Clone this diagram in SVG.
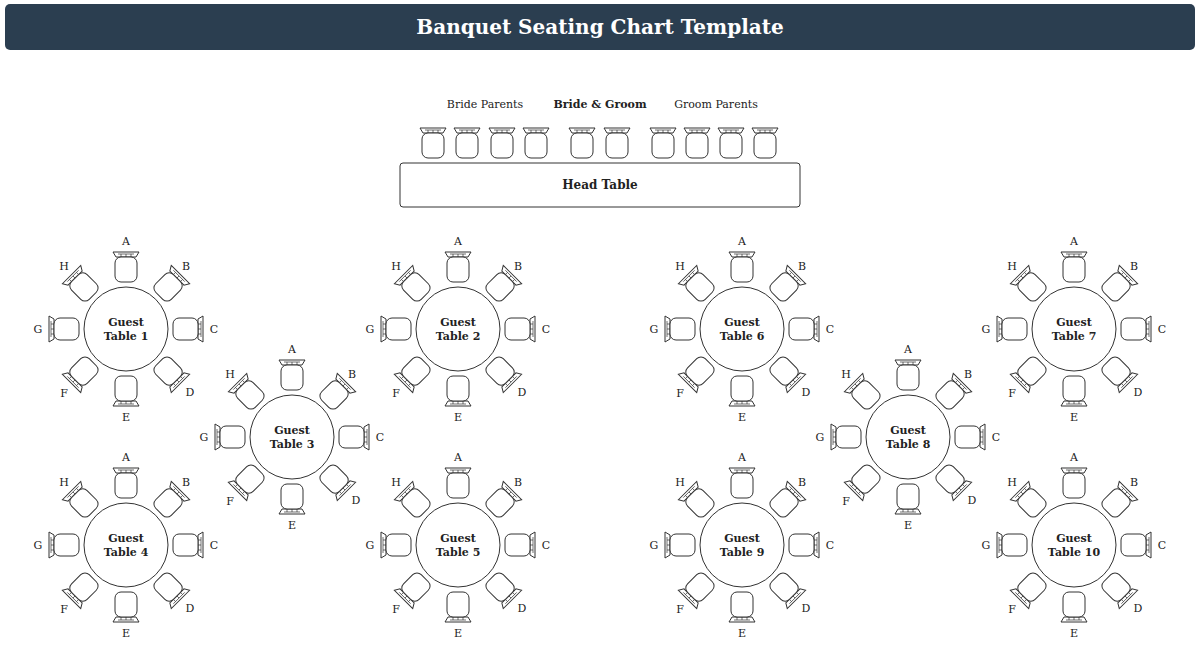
<svg xmlns="http://www.w3.org/2000/svg" xmlns:xlink="http://www.w3.org/1999/xlink" width="1200" height="647" viewBox="0 0 1200 647">
<style>
.ln{fill:#fff;stroke:#333;stroke-width:1}
.t{font-family:"DejaVu Serif","Liberation Serif",serif;fill:#222;text-anchor:middle}
.lb{font-size:11px}
.tn{font-size:11px;font-weight:bold}
</style>
<defs>
<g id="chair">
<path class="ln" d="M-13,-17 L13,-17 L10,-12 L-10,-12 Z"/>
<path d="M-8,-15 L8,-15 M-5,-15 V-12 M0,-15 V-12 M5,-15 V-12" stroke="#333" stroke-width="0.7" fill="none"/>
<rect class="ln" x="-11" y="-12" width="22" height="25" rx="6"/>
</g>
<g id="tbl">
<circle class="ln" r="42"/>
<use xlink:href="#chair" transform="translate(0,-60)"/>
<use xlink:href="#chair" transform="rotate(45) translate(0,-60)"/>
<use xlink:href="#chair" transform="rotate(90) translate(0,-60)"/>
<use xlink:href="#chair" transform="rotate(135) translate(0,-60)"/>
<use xlink:href="#chair" transform="rotate(180) translate(0,-60)"/>
<use xlink:href="#chair" transform="rotate(225) translate(0,-60)"/>
<use xlink:href="#chair" transform="rotate(270) translate(0,-60)"/>
<use xlink:href="#chair" transform="rotate(315) translate(0,-60)"/>
<g class="t lb">
<text x="0" y="-84">A</text><text x="60" y="-59">B</text><text x="88" y="4">C</text><text x="64" y="67">D</text>
<text x="0" y="92">E</text><text x="-62" y="68">F</text><text x="-88" y="4">G</text><text x="-62" y="-59">H</text>
</g>
</g>
</defs>
<rect width="1200" height="647" fill="#fff"/>
<g id="title"><rect x="5" y="4" width="1190" height="46" rx="5" fill="#2b3e50"/>
<text x="600" y="34" font-family="DejaVu Serif,Liberation Serif,serif" font-size="20" font-weight="bold" fill="#fff" text-anchor="middle">Banquet Seating Chart Template</text></g>
<g id="head-table">
<g class="t lb"><text x="485" y="108">Bride Parents</text><text x="600" y="108" font-weight="bold">Bride &amp; Groom</text><text x="716" y="108">Groom Parents</text></g>
<use xlink:href="#chair" x="433" y="145"/><use xlink:href="#chair" x="467" y="145"/><use xlink:href="#chair" x="502" y="145"/><use xlink:href="#chair" x="536" y="145"/>
<use xlink:href="#chair" x="582" y="145"/><use xlink:href="#chair" x="617" y="145"/>
<use xlink:href="#chair" x="663" y="145"/><use xlink:href="#chair" x="697" y="145"/><use xlink:href="#chair" x="731" y="145"/><use xlink:href="#chair" x="765" y="145"/>
<rect class="ln" x="400" y="163" width="400" height="44" rx="3"/>
<text class="t" x="600" y="189" font-size="12" font-weight="bold">Head Table</text>
</g>
<g id="table1" transform="translate(126,329)"><use xlink:href="#tbl"/><text class="t tn" y="-3">Guest</text><text class="t tn" y="11">Table 1</text></g>
<g id="table2" transform="translate(458,329)"><use xlink:href="#tbl"/><text class="t tn" y="-3">Guest</text><text class="t tn" y="11">Table 2</text></g>
<g id="table3" transform="translate(292,437)"><use xlink:href="#tbl"/><text class="t tn" y="-3">Guest</text><text class="t tn" y="11">Table 3</text></g>
<g id="table4" transform="translate(126,545)"><use xlink:href="#tbl"/><text class="t tn" y="-3">Guest</text><text class="t tn" y="11">Table 4</text></g>
<g id="table5" transform="translate(458,545)"><use xlink:href="#tbl"/><text class="t tn" y="-3">Guest</text><text class="t tn" y="11">Table 5</text></g>
<g id="table6" transform="translate(742,329)"><use xlink:href="#tbl"/><text class="t tn" y="-3">Guest</text><text class="t tn" y="11">Table 6</text></g>
<g id="table7" transform="translate(1074,329)"><use xlink:href="#tbl"/><text class="t tn" y="-3">Guest</text><text class="t tn" y="11">Table 7</text></g>
<g id="table8" transform="translate(908,437)"><use xlink:href="#tbl"/><text class="t tn" y="-3">Guest</text><text class="t tn" y="11">Table 8</text></g>
<g id="table9" transform="translate(742,545)"><use xlink:href="#tbl"/><text class="t tn" y="-3">Guest</text><text class="t tn" y="11">Table 9</text></g>
<g id="table10" transform="translate(1074,545)"><use xlink:href="#tbl"/><text class="t tn" y="-3">Guest</text><text class="t tn" y="11">Table 10</text></g>
<g id="connectors"/>
</svg>
